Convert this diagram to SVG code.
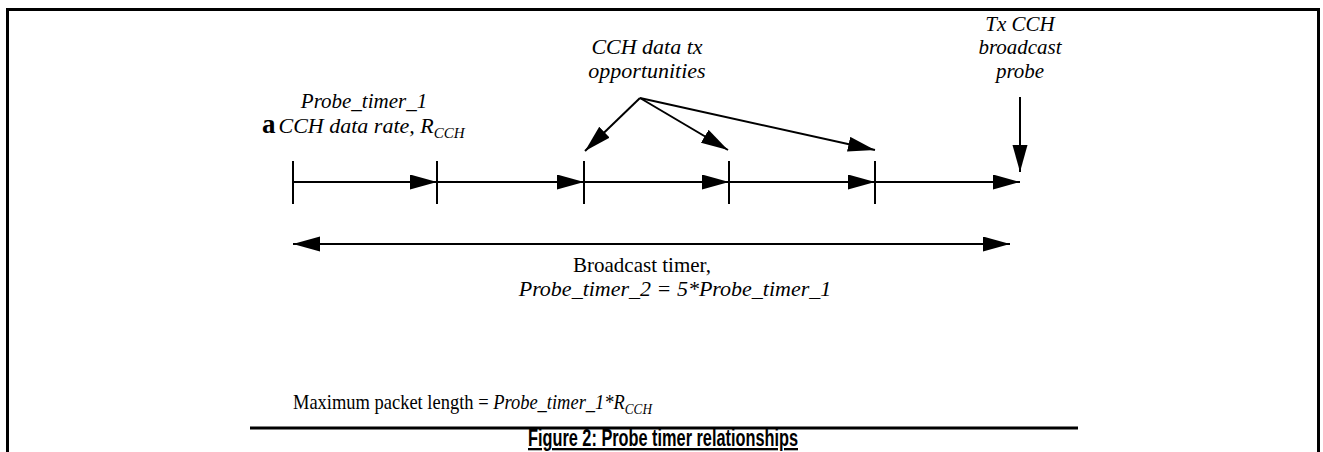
<svg xmlns="http://www.w3.org/2000/svg" width="1323" height="452" viewBox="0 0 1323 452">
<defs>
<marker id="ah" markerUnits="userSpaceOnUse" markerWidth="28" markerHeight="16" refX="27" refY="7.5" orient="auto">
<path d="M0,0 L27,7.5 L0,15 Z" fill="#000"/>
</marker>
<marker id="ahs" markerUnits="userSpaceOnUse" markerWidth="28" markerHeight="16" refX="27" refY="7.5" orient="auto-start-reverse">
<path d="M0,0 L27,7.5 L0,15 Z" fill="#000"/>
</marker>
</defs>
<style>
.t{font-family:"Liberation Serif","Times New Roman",serif;font-size:21px;fill:#000}
.t22{font-size:22px}
.i{font-style:italic}
.sub{font-style:italic;font-size:15px}
.ln{stroke:#000;stroke-width:2;fill:none}
.cap{font-family:"Liberation Sans",Arial,sans-serif;font-size:23px;font-weight:bold;text-decoration:underline;fill:#000}
</style>
<rect width="1323" height="452" fill="#fff"/>
<g id="frame">
<path d="M7.5,452 V9.5 H1318.5 V452" stroke="#000" stroke-width="3" fill="none"/>
</g>
<g id="connectors">
<g id="timeline">
<line class="ln" x1="293" y1="182" x2="437" y2="182" marker-end="url(#ah)"/>
<line class="ln" x1="437" y1="182" x2="584" y2="182" marker-end="url(#ah)"/>
<line class="ln" x1="584" y1="182" x2="729" y2="182" marker-end="url(#ah)"/>
<line class="ln" x1="729" y1="182" x2="875" y2="182" marker-end="url(#ah)"/>
<line class="ln" x1="875" y1="182" x2="1020" y2="182" marker-end="url(#ah)"/>
<line class="ln" x1="293" y1="161" x2="293" y2="204"/>
<line class="ln" x1="437" y1="161" x2="437" y2="204"/>
<line class="ln" x1="584" y1="161" x2="584" y2="204"/>
<line class="ln" x1="729" y1="161" x2="729" y2="204"/>
<line class="ln" x1="875" y1="161" x2="875" y2="204"/>
</g>
<line class="ln" x1="640" y1="98" x2="585" y2="151" marker-end="url(#ah)"/>
<line class="ln" x1="640" y1="98" x2="728" y2="150" marker-end="url(#ah)"/>
<line class="ln" x1="640" y1="98" x2="875" y2="150" marker-end="url(#ah)"/>
<line class="ln" x1="1020" y1="97" x2="1020" y2="172" marker-end="url(#ah)"/>
<line class="ln" x1="293" y1="244" x2="1010" y2="244" marker-start="url(#ahs)" marker-end="url(#ah)"/>
<line x1="250" y1="428" x2="1078" y2="428" stroke="#000" stroke-width="3"/>
</g>
<g id="probe-timer-label">
<text class="t i" x="364" y="108" text-anchor="middle">Probe_timer_1</text>
<text class="t t22" x="262" y="133"><tspan style="font-weight:bold;font-size:27px">a</tspan><tspan class="i" dx="3">CCH data rate, R</tspan><tspan class="sub" dy="5">CCH</tspan></text>
</g>
<g id="cch-opportunities">
<text class="t t22 i" x="647" y="54" text-anchor="middle">CCH data tx</text>
<text class="t t22 i" x="647" y="78" text-anchor="middle">opportunities</text>
</g>
<g id="tx-probe">
<text class="t i" x="1020" y="31" text-anchor="middle">Tx CCH</text>
<text class="t i" x="1020" y="54" text-anchor="middle">broadcast</text>
<text class="t i" x="1020" y="78" text-anchor="middle">probe</text>
</g>
<g id="broadcast-timer">
<text class="t" x="642" y="272" text-anchor="middle">Broadcast timer,</text>
<text class="t t22 i" x="675" y="296" text-anchor="middle">Probe_timer_2 = 5*Probe_timer_1</text>
</g>
<g id="max-length" transform="translate(293,409) scale(0.88,1)">
<text class="t" x="0" y="0">Maximum packet length = <tspan class="i">Probe_timer_1*R</tspan><tspan class="sub" dy="5">CCH</tspan></text>
</g>
<g id="caption">
<text class="cap" x="528" y="446" textLength="270" lengthAdjust="spacingAndGlyphs">Figure 2: Probe timer relationships</text>
</g>
</svg>
